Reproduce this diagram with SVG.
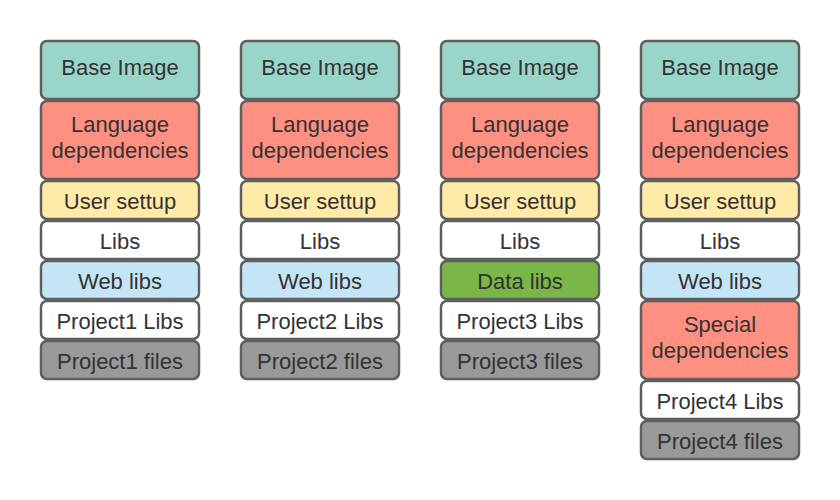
<svg xmlns="http://www.w3.org/2000/svg" width="840" height="500" viewBox="0 0 840 500">
<style>
rect{stroke:#5f5f5f;stroke-width:2.5}
text{font-family:"Liberation Sans",Arial,sans-serif;font-size:22px;fill:#333;text-anchor:middle;dominant-baseline:central}
.base{fill:#9ad5ca}.lang{fill:#ff8f80}.user{fill:#ffeaa7}.white{fill:#fff}.web{fill:#c3e5f5}.data{fill:#7ab648}.files{fill:#999}
</style>
<rect width="840" height="500" fill="#fff" style="stroke:none"/>
<g id="column1">
<g id="c1-base"><rect class="base" x="41" y="41" width="158" height="58" rx="6"/><text x="120" y="67">Base Image</text></g>
<g id="c1-lang"><rect class="lang" x="41" y="101" width="158" height="78" rx="6"/><text x="120" y="124">Language</text><text x="120" y="150">dependencies</text></g>
<g id="c1-user"><rect class="user" x="41" y="181" width="158" height="38" rx="6"/><text x="120" y="201">User settup</text></g>
<g id="c1-libs"><rect class="white" x="41" y="221" width="158" height="38" rx="6"/><text x="120" y="241">Libs</text></g>
<g id="c1-web"><rect class="web" x="41" y="261" width="158" height="38" rx="6"/><text x="120" y="281">Web libs</text></g>
<g id="c1-plibs"><rect class="white" x="41" y="301" width="158" height="38" rx="6"/><text x="120" y="321">Project1 Libs</text></g>
<g id="c1-files"><rect class="files" x="41" y="341" width="158" height="38" rx="6"/><text x="120" y="361">Project1 files</text></g>
</g>
<g id="column2">
<g id="c2-base"><rect class="base" x="241" y="41" width="158" height="58" rx="6"/><text x="320" y="67">Base Image</text></g>
<g id="c2-lang"><rect class="lang" x="241" y="101" width="158" height="78" rx="6"/><text x="320" y="124">Language</text><text x="320" y="150">dependencies</text></g>
<g id="c2-user"><rect class="user" x="241" y="181" width="158" height="38" rx="6"/><text x="320" y="201">User settup</text></g>
<g id="c2-libs"><rect class="white" x="241" y="221" width="158" height="38" rx="6"/><text x="320" y="241">Libs</text></g>
<g id="c2-web"><rect class="web" x="241" y="261" width="158" height="38" rx="6"/><text x="320" y="281">Web libs</text></g>
<g id="c2-plibs"><rect class="white" x="241" y="301" width="158" height="38" rx="6"/><text x="320" y="321">Project2 Libs</text></g>
<g id="c2-files"><rect class="files" x="241" y="341" width="158" height="38" rx="6"/><text x="320" y="361">Project2 files</text></g>
</g>
<g id="column3">
<g id="c3-base"><rect class="base" x="441" y="41" width="158" height="58" rx="6"/><text x="520" y="67">Base Image</text></g>
<g id="c3-lang"><rect class="lang" x="441" y="101" width="158" height="78" rx="6"/><text x="520" y="124">Language</text><text x="520" y="150">dependencies</text></g>
<g id="c3-user"><rect class="user" x="441" y="181" width="158" height="38" rx="6"/><text x="520" y="201">User settup</text></g>
<g id="c3-libs"><rect class="white" x="441" y="221" width="158" height="38" rx="6"/><text x="520" y="241">Libs</text></g>
<g id="c3-data"><rect class="data" x="441" y="261" width="158" height="38" rx="6"/><text x="520" y="281">Data libs</text></g>
<g id="c3-plibs"><rect class="white" x="441" y="301" width="158" height="38" rx="6"/><text x="520" y="321">Project3 Libs</text></g>
<g id="c3-files"><rect class="files" x="441" y="341" width="158" height="38" rx="6"/><text x="520" y="361">Project3 files</text></g>
</g>
<g id="column4">
<g id="c4-base"><rect class="base" x="641" y="41" width="158" height="58" rx="6"/><text x="720" y="67">Base Image</text></g>
<g id="c4-lang"><rect class="lang" x="641" y="101" width="158" height="78" rx="6"/><text x="720" y="124">Language</text><text x="720" y="150">dependencies</text></g>
<g id="c4-user"><rect class="user" x="641" y="181" width="158" height="38" rx="6"/><text x="720" y="201">User settup</text></g>
<g id="c4-libs"><rect class="white" x="641" y="221" width="158" height="38" rx="6"/><text x="720" y="241">Libs</text></g>
<g id="c4-web"><rect class="web" x="641" y="261" width="158" height="38" rx="6"/><text x="720" y="281">Web libs</text></g>
<g id="c4-special"><rect class="lang" x="641" y="301" width="158" height="78" rx="6"/><text x="720" y="324">Special</text><text x="720" y="350">dependencies</text></g>
<g id="c4-plibs"><rect class="white" x="641" y="381" width="158" height="38" rx="6"/><text x="720" y="401">Project4 Libs</text></g>
<g id="c4-files"><rect class="files" x="641" y="421" width="158" height="38" rx="6"/><text x="720" y="441">Project4 files</text></g>
</g>
<g id="connectors"/>
</svg>
